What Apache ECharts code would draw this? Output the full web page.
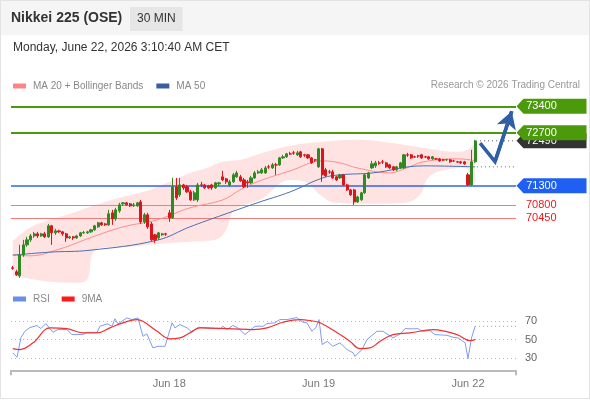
<!DOCTYPE html>
<html><head><meta charset="utf-8">
<script src="https://cdn.jsdelivr.net/npm/echarts@6/dist/echarts.min.js"></script>
<style>html,body{margin:0;padding:0;background:#fff}#c{width:590px;height:400px}</style>
</head><body><div id="c"></div><script>
// candles: [open, close, low, high], one per 30-minute slot
const ohlc = [
[69134,69121,69082,69187],[69029,68949,68923,69082],[68923,69478,68870,69742],[69478,69742,69425,69874],
[69742,69874,69689,69953],[69874,69979,69821,70032],[69979,70032,69926,70085],[70032,69979,69926,70085],
[69979,70032,69953,70059],[70032,69953,69926,70085],[69953,70244,69926,70296],[70244,70059,69742,70270],
[70059,70111,70006,70164],[70111,70085,70059,70138],[70085,70032,69979,70111],[70032,69926,69821,70059],
[69926,69953,69900,69979],[69953,69926,69874,69979],[69926,69979,69900,70006],[69979,70059,69953,70085],
[70059,70065,70032,70111],[70059,70085,70032,70111],[70085,70138,70059,70164],[70138,70244,70111,70270],
[70217,70323,70191,70349],[70323,70270,70244,70349],[70296,70270,70244,70323],[70270,70561,70244,70666],
[70587,70428,70270,70666],[70428,70666,70376,70719],[70640,70798,70587,70851],[70825,70851,70772,70877],
[70851,70798,70772,70877],[70825,70772,70745,70851],[70772,70798,70745,70851],[70772,70851,70745,70877],
[70877,70349,70296,70930],[70349,70534,70296,70587],[70534,70217,70164,70587],[70296,69874,69847,70349],
[70006,69874,69794,70032],[69926,70059,69874,70085],[70006,70032,69979,70059],[70032,70025,69979,70059],
[70587,70455,70349,70666],[70455,71274,70428,71511],[71274,70983,70930,71511],[71062,71326,71009,71511],
[71326,71247,71194,71353],[71274,71142,71115,71326],[71142,70930,70904,71194],[70930,71115,70904,71168],
[70930,71326,70877,71379],[71326,71320,71274,71406],[71326,71247,71221,71353],[71300,71247,71221,71326],
[71326,71247,71194,71353],[71247,71379,71221,71406],[71353,71379,71300,71406],[71538,71458,71432,71696],
[71485,71406,71353,71511],[71326,71406,71274,71458],[71406,71591,71379,71643],[71538,71643,71511,71696],
[71538,71432,71406,71591],[71458,71274,71247,71511],[71406,71379,71247,71458],[71379,71511,71353,71564],
[71511,71643,71485,71696],[71643,71670,71617,71723],[71643,71723,71617,71775],[71643,71775,71617,71828],
[71802,71795,71749,71855],[71775,71855,71749,71907],[71855,71850,71591,71907],[71855,72039,71828,72066],
[72039,72066,72013,72119],[72066,72145,72039,72172],[72145,72140,72119,72198],[72172,72165,72119,72224],
[72119,72172,72092,72224],[72198,72066,72039,72224],[72119,72112,72066,72145],[72119,72039,72013,72145],
[72039,71907,71881,72066],[71987,71980,71934,72013],[71802,72277,71775,72304],[72277,71591,71406,72304],
[71723,71564,71538,71775],[71670,71665,71617,71723],[71670,71511,71485,71723],[71538,71458,71432,71564],
[71511,71591,71485,71617],[71591,71326,71300,71617],[71326,71194,71168,71353],[71194,71062,71036,71221],
[71194,70877,70798,71221],[70877,71009,70851,71036],[70930,71115,70904,71142],[71115,71591,71089,71617],
[71511,71643,71485,71670],[71775,71881,71749,71960],[71828,71907,71775,71960],[71907,71900,71855,71960],
[71934,71928,71881,71987],[71907,71802,71775,71934],[71855,71775,71749,71881],[71802,71723,71696,71828],
[71723,71802,71696,71828],[71775,71907,71749,71934],[71775,72119,71749,72145],[72119,72112,72066,72172],
[72119,72039,72013,72145],[72066,72060,72039,72092],[72092,72086,72039,72119],[72119,72039,72013,72145],
[72066,72060,72039,72092],[72066,72013,71987,72092],[72013,72066,71987,72092],[72013,72007,71987,72039],
[72013,71960,71934,72039],[71987,71980,71960,72013],[71987,71993,71960,72013],[71987,71934,71907,72013],
[71960,71954,71934,71987],[71934,71928,71907,71960],[71934,71907,71881,71960],[71934,71881,71855,71960],
[71591,71326,71300,71643],[71326,71934,71300,72251],[71934,72488,71907,72515]
];
// indicator readings: [slot index, value]
const ma20 = [[0,69478],[4.8,69452],[13.3,69636],[21.7,69926],[31,70217],[40.6,70402],[49.8,70719],[59.1,70930],
[63.9,71194],[68.7,71406],[78,71696],[87.2,71960],[92,71907],[96.8,71775],[106,71643],[110.8,71775],
[115.4,71934],[124.9,72013],[128.6,71987],[130,71960]];
const bbUpper = [[0,69838],[4.8,70191],[10.5,70402],[16,70561],[21.7,70745],[30,70983],[38.6,71194],[43.4,71379],
[49.8,71643],[54.6,71775],[59,71934],[64,71987],[70.4,72172],[78,72357],[87,72462],[97,72515],[106,72436],
[115.4,72304],[125,72198],[128,72251],[130,72436]];
const bbLower = [[0,68923],[4.8,68844],[10.5,68765],[17.5,68738],[20.9,68817],[22.3,69478],[24.5,69662],[33,69689],
[41.4,69768],[49.8,69821],[56.9,69874],[59.7,70085],[62.5,70666],[69.5,70930],[78,71458],[82.2,71406],
[86.4,71062],[90.6,70851],[100.5,70825],[110.3,70851],[114.5,71062],[116.8,71511],[121.6,71723],[127.2,71775],[130,71274]];
const ma50 = [[0,69470],[10.5,69550],[21.7,69600],[40.6,69865],[49.8,70217],[59.1,70534],[68.7,70851],[78,71142],
[87.2,71511],[92,71591],[101.3,71643],[115.4,71828],[130,71802]];
const rsi = [[0,35.7],[1.2,31.0],[2.3,52.2],[3.4,58.9],[4.8,62.9],[6.8,65.1],[7.9,61.8],[9.3,67.2],[11.3,57.8],
[12.7,60.8],[15.2,60.8],[16.6,55.4],[19.7,55.4],[20.9,57.8],[23.7,57.8],[24.5,64.3],[26.5,66.9],[27.9,64.3],
[28.7,72.3],[29.6,66.9],[32.1,73.3],[33.5,71.5],[35.2,73.3],[36.6,53.5],[37.7,56.1],[39.4,41.1],[40.8,42.8],
[42.8,42.8],[44.8,68.0],[45.6,62.6],[47,66.1],[49,62.6],[50.4,57.8],[52.1,63.2],[54.6,62.6],[58.3,61.5],
[59.1,64.3],[60.2,60.8],[61.9,65.1],[63.3,62.6],[65.3,55.4],[68.1,64.3],[70.4,64.3],[71.5,67.2],[73.7,68.0],
[75.1,71.5],[77.1,71.5],[79.9,73.7],[81.3,69.0],[82.7,68.0],[84.1,58.9],[85.3,63.2],[86.1,71.5],[87,44.6],
[88.4,48.2],[90,42.8],[92,46.5],[94,39.3],[95.7,35.7],[96.2,32.0],[98.2,39.3],[99.6,50.0],[102.4,58.9],
[104.1,58.9],[106.9,51.8],[108.9,56.1],[110.3,61.8],[112.3,61.5],[113.9,61.8],[115.1,58.9],[117.3,59.7],
[118.7,55.4],[122.1,54.6],[123.8,52.5],[125.2,51.8],[127.2,46.5],[128,29.6],[129,51.8],[130,64.3]];
const rsiMa9 = [[0,40.3],[2,39.3],[5.7,46.5],[10.5,62.6],[15.2,61.8],[19.7,57.2],[23.7,57.2],[27.3,62.6],[31,68.0],
[34.9,71.5],[36.6,69.7],[40.6,58.9],[44.2,50.8],[47,51.8],[49.8,57.2],[52.6,62.6],[61.9,61.5],[67.5,60.8],
[71.5,62.6],[76,68.6],[80.8,71.5],[83.6,70.4],[86.4,68.0],[92,55.4],[94.8,48.2],[97.6,40.3],[100.5,41.1],
[103.3,48.2],[106.9,55.4],[111.7,57.2],[118.2,60.8],[124.9,55.4],[128.6,48.9],[130,50.0]];
const resistance = [73400, 72700];
const support = [71300];
const minorSupport = [70800, 70450];
const lastPrice = 72490;
const projection = [[131.4,72428],[135.6,71942],[140.3,73270]];
const dayLabels = ['Jun 18', 'Jun 19', 'Jun 22'];
const dayIndex = [44, 86, 128];
const slots = 142;

const GREEN = '#4b9a0c', BLUE = '#2f66ee', RED = '#f27a7a';
const pin = 'path://M0,8L7,0L70,0L70,16L7,16Z';
const xEnd = slots - 0.5;
const ma50Last = ma50[ma50.length - 1][1];
const rsiLast = rsi[rsi.length - 1][1];

function levelPoint(v, color) {
  return { coord: [xEnd, v], value: v, symbol: pin, symbolSize: [70, 15], symbolOffset: [35.5, 0],
    itemStyle: { color: color },
    label: { show: true, position: 'inside', formatter: '{c}', color: '#fff', fontSize: 11, offset: [-10, 0] } };
}

const chart = echarts.init(document.getElementById('c'), null, { renderer: 'canvas' });
chart.setOption({
  animation: false,
  textStyle: { fontFamily: 'Liberation Sans, Arial, sans-serif' },
  graphic: [
    { type: 'rect', z: 0, shape: { x: 0, y: 0, width: 590, height: 35 }, style: { fill: '#f5f5f5' } },
    { type: 'rect', z: 0, shape: { x: 0.5, y: 0.5, width: 589, height: 398 }, style: { fill: 'none', stroke: '#e3e3e3', lineWidth: 1 } }
  ],
  title: [
    { text: 'Nikkei 225 (OSE)', left: 11, top: 11, padding: 0, textStyle: { fontSize: 14, fontWeight: 'bold', color: '#333' } },
    { text: '30 MIN', left: 130, top: 7, backgroundColor: '#e6e6e6', padding: [6, 7], textStyle: { fontSize: 12, fontWeight: 'normal', color: '#333' } },
    { text: 'Monday, June 22, 2026 3:10:40 AM CET', left: 13, top: 42, padding: 0, textStyle: { fontSize: 12, fontWeight: 'normal', color: '#333' } },
    { text: 'Research © 2026 Trading Central', right: 10, top: 80, padding: 0, textStyle: { fontSize: 10, fontWeight: 'normal', color: '#999' } }
  ],
  legend: [
    { left: 13, top: 81, padding: 0, icon: 'rect', itemWidth: 13, itemHeight: 5, itemGap: 13, selectedMode: false,
      textStyle: { color: '#888', fontSize: 10, padding: [0, 0, 0, 2] },
      data: [{ name: 'MA 20 + Bollinger Bands', itemStyle: { color: '#ff8585' } }, { name: 'MA 50', itemStyle: { color: '#3a5f9f' } }] },
    { left: 13, top: 294, padding: 0, icon: 'rect', itemWidth: 13, itemHeight: 5, itemGap: 12, selectedMode: false,
      textStyle: { color: '#888', fontSize: 10, padding: [0, 0, 0, 2] },
      data: [{ name: 'RSI', itemStyle: { color: '#6b8fe8' } }, { name: '9MA', itemStyle: { color: '#ff1a1a' } }] }
  ],
  grid: [
    { left: 11, right: 74, top: 95, height: 189.3 },
    { left: 11, right: 74, top: 307, height: 63.3 }
  ],
  xAxis: [
    { type: 'category', gridIndex: 0, data: Array.from({ length: slots }, (_, i) => String(i)), boundaryGap: true, show: false },
    { type: 'value', gridIndex: 0, min: -0.5, max: xEnd, show: false },
    { type: 'value', gridIndex: 1, min: -0.5, max: xEnd,
      axisLine: { show: true, lineStyle: { color: '#bbb', width: 2 } },
      axisTick: { show: true, customValues: [-0.5, xEnd], length: 5, lineStyle: { color: '#bbb', width: 2 } },
      axisLabel: { customValues: dayIndex, formatter: v => dayLabels[dayIndex.indexOf(v)] || '', color: '#777', fontSize: 11, margin: 8 },
      splitLine: { show: false } }
  ],
  yAxis: [
    { type: 'value', gridIndex: 0, min: 68700, max: 73700, show: false },
    { type: 'value', gridIndex: 1, min: 17, max: 85, position: 'right',
      axisLine: { show: false }, axisTick: { show: false }, splitLine: { show: false },
      axisLabel: { customValues: [30, 50, 70], color: '#666', fontSize: 11, margin: 9 } }
  ],
  series: [
    { name: 'bbUpper', type: 'line', xAxisIndex: 1, yAxisIndex: 0, data: bbUpper, smooth: 0.4, showSymbol: false, silent: true, z: 1,
      lineStyle: { width: 0 }, areaStyle: { color: '#ffe3e3', opacity: 1, origin: 'start' } },
    { name: 'bbLower', type: 'line', xAxisIndex: 1, yAxisIndex: 0, data: bbLower, smooth: 0.4, showSymbol: false, silent: true, z: 2,
      lineStyle: { width: 0 }, areaStyle: { color: '#ffffff', opacity: 1, origin: 'start' } },
    { name: 'levels', type: 'line', xAxisIndex: 1, yAxisIndex: 0, z: 3, silent: true, showSymbol: false,
      data: [[131.4, lastPrice], [xEnd, lastPrice]], lineStyle: { color: '#555', width: 1, type: [1, 3] },
      markLine: { silent: true, z: 3, symbol: ['none', 'none'], animation: false,
        data: [
          ...resistance.map(v => ({ yAxis: v, lineStyle: { color: GREEN, width: 2, type: 'solid' }, label: { show: false } })),
          ...support.map(v => ({ yAxis: v, lineStyle: { color: BLUE, width: 1.5, type: 'solid' }, label: { show: false } })),
          ...minorSupport.map(v => ({ yAxis: v, lineStyle: { color: RED, width: 1, type: 'solid' },
            label: { show: true, position: 'end', distance: 10, formatter: String(v), color: '#f01818', fontSize: 11 } }))
        ] } },
    { name: 'MA 20 + Bollinger Bands', type: 'line', xAxisIndex: 1, yAxisIndex: 0, data: ma20, smooth: 0.4, showSymbol: false, z: 4,
      itemStyle: { color: '#ff8585' }, lineStyle: { color: '#ff8c8c', width: 1 } },
    { name: 'MA 50', type: 'line', xAxisIndex: 1, yAxisIndex: 0, data: ma50, smooth: 0.4, showSymbol: false, z: 4,
      itemStyle: { color: '#3a5f9f' }, lineStyle: { color: '#4a6eb0', width: 1 } },
    { name: 'ma50ext', type: 'line', xAxisIndex: 1, yAxisIndex: 0, data: [[130.5, ma50Last], [xEnd, ma50Last]], showSymbol: false, z: 4,
      lineStyle: { color: '#4a6eb0', width: 1, type: [1, 3] } },
    { name: 'candles', type: 'candlestick', xAxisIndex: 0, yAxisIndex: 0, data: ohlc, barWidth: '74%', z: 5,
      itemStyle: { color: '#2f8a23', color0: '#da161c', borderColor: '#2f8a23', borderColor0: '#da161c', borderWidth: 1 } },
    { name: 'projection', type: 'line', xAxisIndex: 1, yAxisIndex: 0, data: projection, showSymbol: false, z: 6,
      lineStyle: { color: '#2f5fa5', width: 3.5, join: 'miter', cap: 'butt' },
      markLine: { silent: true, z: 6, symbol: ['none', 'arrow'], symbolSize: [15, 17], label: { show: false },
        lineStyle: { color: '#2f5fa5', width: 3.5, type: 'solid' },
        data: [[{ coord: projection[1] }, { coord: projection[2] }]] } },
    { name: 'lastLabel', type: 'line', xAxisIndex: 1, yAxisIndex: 0, data: [], z: 7,
      markPoint: { silent: true, z: 7, data: [levelPoint(lastPrice, '#333333')] } },
    { name: 'levelLabels', type: 'line', xAxisIndex: 1, yAxisIndex: 0, data: [], z: 8,
      markPoint: { silent: true, z: 8, data: [
        ...resistance.map(v => levelPoint(v, GREEN)),
        ...support.map(v => levelPoint(v, '#1f60f2'))
      ] } },
    { name: 'RSI', type: 'line', xAxisIndex: 2, yAxisIndex: 1, data: rsi, showSymbol: false, z: 4,
      itemStyle: { color: '#6b8fe8' }, lineStyle: { color: '#7d9cf0', width: 1 },
      markLine: { silent: true, z: 1, symbol: ['none', 'none'], label: { show: false },
        lineStyle: { color: '#bbb', width: 1, type: [1, 3] },
        data: [{ yAxis: 30 }, { yAxis: 50 }, { yAxis: 70 }] } },
    { name: 'rsiExt', type: 'line', xAxisIndex: 2, yAxisIndex: 1, data: [[130, rsiLast], [xEnd, rsiLast]], showSymbol: false, z: 4,
      lineStyle: { color: '#7d9cf0', width: 1, type: [1, 3] } },
    { name: '9MA', type: 'line', xAxisIndex: 2, yAxisIndex: 1, data: rsiMa9, smooth: 0.4, showSymbol: false, z: 5,
      itemStyle: { color: '#ff1a1a' }, lineStyle: { color: '#f03030', width: 1.2 } }
  ]
});
</script></body></html>
